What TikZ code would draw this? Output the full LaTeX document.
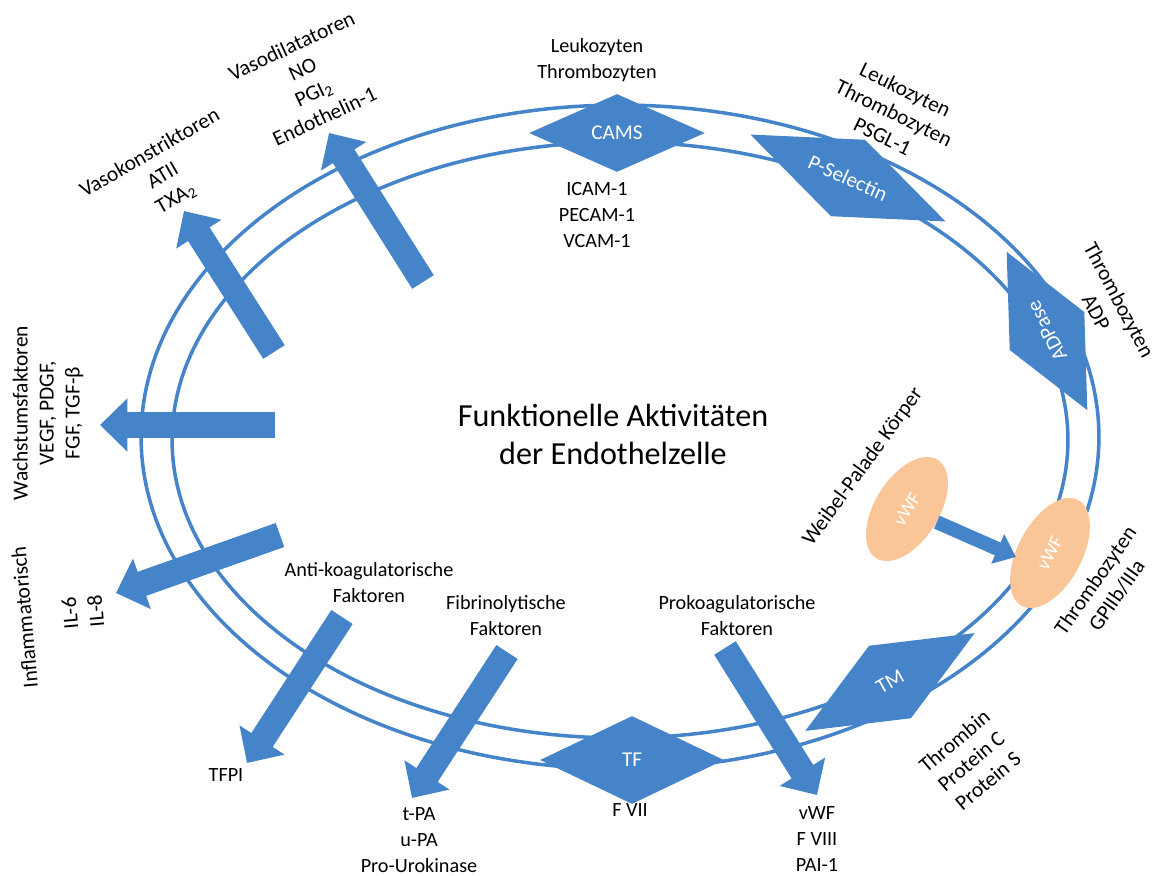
\documentclass[tikz,border=0pt]{standalone}
\usepackage{fontspec}
\setmainfont{Carlito}
\usetikzlibrary{shapes.geometric}
\usetikzlibrary{arrows.meta}
\definecolor{endoblue}{RGB}{70,132,202}
\definecolor{vwfpeach}{RGB}{250,198,152}
\tikzstyle{membrane} = [draw=endoblue, line width=2pt]
\tikzstyle{receptor} = [diamond, aspect=2.5, inner sep=0pt, fill=endoblue, text=white, font=\fontsize{12}{14}\selectfont]
\tikzstyle{granule} = [ellipse, inner sep=0pt, fill=vwfpeach, text=white, minimum width=2.32cm, minimum height=1.28cm, font=\fontsize{11}{13}\selectfont]
\tikzstyle{txt} = [align=center, inner sep=0pt, font=\fontsize{11.5}{14.8}\selectfont]
\tikzstyle{tilted} = [align=center, inner sep=0pt, font=\fontsize{12.2}{14.8}\selectfont]
\tikzstyle{fatarrow} = [draw=endoblue, line width=14.5pt, -{Triangle[length=0.55cm, width=1.04cm]}]
\tikzstyle{smallarrow} = [draw=endoblue, line width=8pt, -{Triangle[length=0.4cm, width=0.62cm]}]

\begin{document}
\begin{tikzpicture}[x=0.02cm, y=-0.02cm]
\useasboundingbox (0,0) rectangle (1161,876);

% Zellmembran
\draw [membrane] (620,437) ellipse [x radius=9.58cm, y radius=6.64cm];
\draw [membrane] (620,440) ellipse [x radius=8.96cm, y radius=5.96cm];

\node (title) [txt, font=\fontsize{18.3}{21.6}\selectfont] at (613,434) {Funktionelle Aktivitäten\\der Endothelzelle};

% Rezeptoren auf der Membran
\node (cams) [receptor, minimum width=3.52cm, minimum height=1.56cm] at (617,133) {CAMS};
\node (psel) [receptor, minimum width=4.28cm, minimum height=1.68cm, rotate=-24] at (848,178) {P-Selectin};
\node (adpase) [receptor, minimum width=3.56cm, minimum height=1.68cm, rotate=117] at (1047,331) {ADPase};
\node (tm) [receptor, minimum width=3.92cm, minimum height=1.68cm, rotate=30] at (890,682) {TM};
\node (tf) [receptor, minimum width=3.68cm, minimum height=1.76cm] at (632,760) {TF};

% Weibel-Palade Koerper
\node (wpb) [granule, rotate=58] at (907,509) {vWF};
\node (vwf) [granule, rotate=62, minimum width=2.4cm] at (1050,553) {vWF};
\coordinate (vwfin) at (1016,557);
\draw [smallarrow] (wpb) -- (vwfin);

% Sekretion
\coordinate (vkstart) at (274,352);
\coordinate (vkend) at (184,211);
\coordinate (vdstart) at (423,282);
\coordinate (vdend) at (329,133);
\coordinate (wfstart) at (275,425);
\coordinate (wfend) at (100,425);
\coordinate (instart) at (280,535);
\coordinate (inend) at (116,593);
\coordinate (akstart) at (342,617);
\coordinate (akend) at (247,763);
\coordinate (fbstart) at (507,652);
\coordinate (fbend) at (412,798);
\coordinate (pkstart) at (725,648);
\coordinate (pkend) at (817,795);
\draw [fatarrow] (vkstart) -- (vkend);
\draw [fatarrow] (vdstart) -- (vdend);
\draw [fatarrow] (wfstart) -- (wfend);
\draw [fatarrow] (instart) -- (inend);
\draw [fatarrow] (akstart) -- (akend);
\draw [fatarrow] (fbstart) -- (fbend);
\draw [fatarrow] (pkstart) -- (pkend);

% Beschriftungen
\node (camsup) [txt] at (597,60) {Leukozyten\\Thrombozyten};
\node (camsdown) [txt] at (597,215) {ICAM-1\\PECAM-1\\VCAM-1};
\node (pselup) [tilted, rotate=-26] at (894,113) {Leukozyten\\Thrombozyten\\PSGL-1};
\node (adp) [tilted, rotate=-62] at (1108,306) {Thrombozyten\\ADP};
\node (wpbtxt) [tilted, rotate=54] at (863,467) {Weibel-Palade Körper};
\node (gp) [tilted, rotate=55] at (1106,588) {Thrombozyten\\GPIIb/IIIa};
\node (tmtxt) [tilted, rotate=40] at (971,761) {Thrombin\\Protein C\\Protein S};
\node (fvii) [txt] at (630,810) {F VII};
\node (prokoag) [txt] at (737,616) {Prokoagulatorische\\Faktoren};
\node (pktxt) [txt] at (817,839) {vWF\\F VIII\\PAI-1};
\node (fibrin) [txt] at (506,616) {Fibrinolytische\\Faktoren};
\node (fbtxt) [txt] at (419,840) {t-PA\\u-PA\\Pro-Urokinase};
\node (antikoag) [txt] at (369,583) {Anti-koagulatorische\\Faktoren};
\node (tfpi) [txt] at (226,775) {TFPI};
\node (infl) [tilted, rotate=95] at (60,614) {Inflammatorisch\\[11pt]IL-6\\IL-8};
\node (wachstum) [tilted, rotate=90] at (48,413) {Wachstumsfaktoren\\VEGF, PDGF,\\FGF, TGF-β};
\node (vasok) [tilted, rotate=30] at (163,176) {Vasokonstriktoren\\ATII\\TXA\textsubscript{2}};
\node (vasod) [tilted, rotate=25] at (308,81) {Vasodilatatoren\\NO\\PGI\textsubscript{2}\\Endothelin-1};

\end{tikzpicture}
\end{document}
